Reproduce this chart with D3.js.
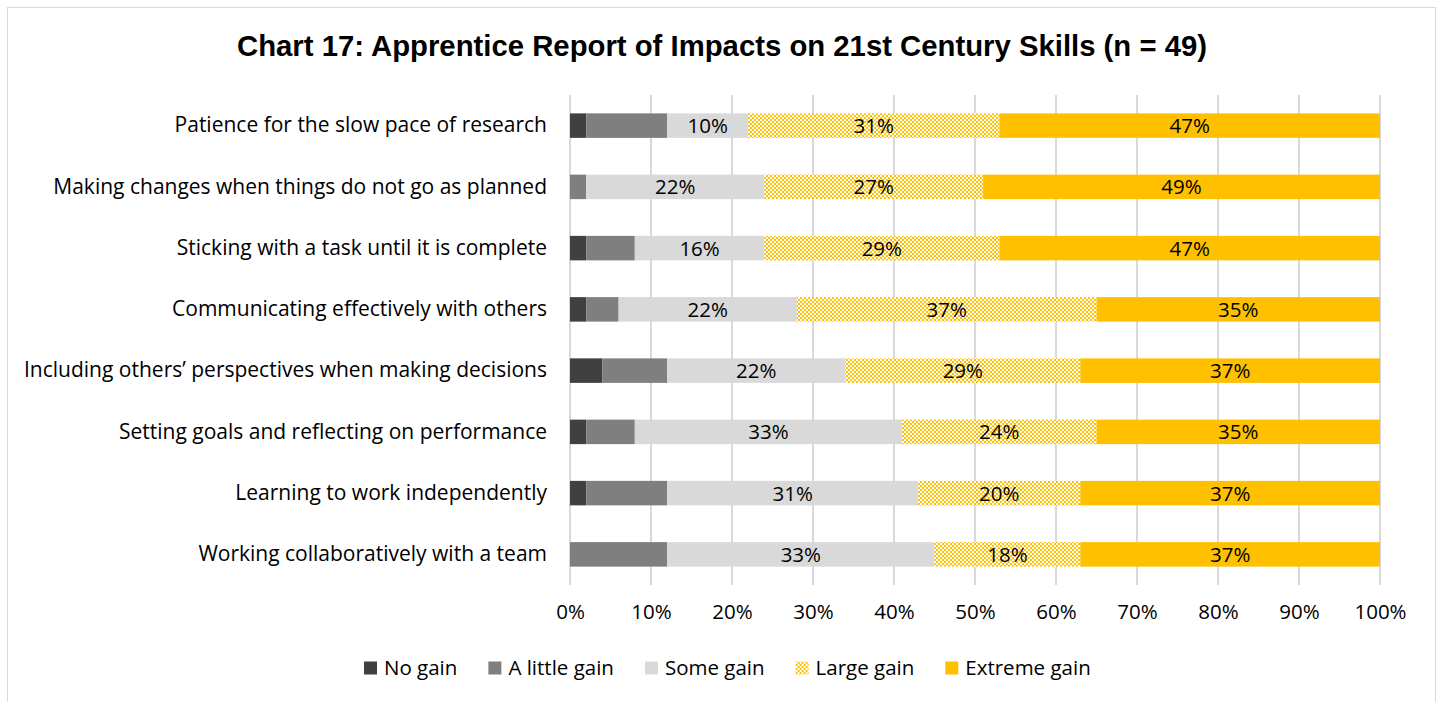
<!DOCTYPE html>
<html>
<head>
<meta charset="utf-8">
<script src="https://cdn.jsdelivr.net/npm/d3@7"></script>
<style>
  body { margin: 0; background: #fff; }
  svg text { font-family: "Open Sans", "Noto Sans", sans-serif; fill: #000; }
  svg text.title { font-family: "Liberation Sans", Arial, sans-serif; font-weight: bold; }
</style>
</head>
<body>
<svg id="chart"></svg>
<script>
const categories = [
  'Patience for the slow pace of research',
  'Making changes when things do not go as planned',
  'Sticking with a task until it is complete',
  'Communicating effectively with others',
  'Including others\u2019 perspectives when making decisions',
  'Setting goals and reflecting on performance',
  'Learning to work independently',
  'Working collaboratively with a team'
];
const seriesNames = ['No gain', 'A little gain', 'Some gain', 'Large gain', 'Extreme gain'];
const noGain      = [2, 0, 2, 2, 4, 2, 2, 0];
const littleGain  = [10, 2, 6, 4, 8, 6, 10, 12];
const someGain    = [10, 22, 16, 22, 22, 33, 31, 33];
const largeGain   = [31, 27, 29, 37, 29, 24, 20, 18];
const extremeGain = [47, 49, 47, 35, 37, 35, 37, 37];
const tickValues = [0, 10, 20, 30, 40, 50, 60, 70, 80, 90, 100];
const labelledSeries = ['Some gain', 'Large gain', 'Extreme gain'];

const seriesValues = [noGain, littleGain, someGain, largeGain, extremeGain];
const data = categories.map((c, i) => {
  const row = { category: c };
  seriesNames.forEach((s, j) => row[s] = seriesValues[j][i]);
  return row;
});

const config = {
  width: 1440, height: 702,
  margin: { top: 95, right: 60, bottom: 117, left: 570 }
};
const innerW = 1380 - config.margin.left;
const innerH = config.height - config.margin.top - config.margin.bottom;

const svg = d3.select('#chart')
  .attr('width', config.width)
  .attr('height', config.height);

// pattern for "Large gain"
const defs = svg.append('defs');
const pat = defs.append('pattern')
  .attr('id', 'checker')
  .attr('patternUnits', 'userSpaceOnUse')
  .attr('width', 4).attr('height', 4);
pat.append('rect').attr('width', 4).attr('height', 4).attr('fill', '#fff');
pat.append('rect').attr('width', 2).attr('height', 2).attr('fill', '#ffc000');
pat.append('rect').attr('x', 2).attr('y', 2).attr('width', 2).attr('height', 2).attr('fill', '#ffc000');

// outer border
svg.append('rect')
  .attr('x', 7.5).attr('y', 7.5)
  .attr('width', 1428).attr('height', 720)
  .attr('fill', 'none')
  .attr('stroke', '#d9d9d9');

svg.append('text')
  .attr('class', 'title')
  .attr('x', 722).attr('y', 56)
  .attr('text-anchor', 'middle')
  .attr('font-size', 29.3)
  .text('Chart 17: Apprentice Report of Impacts on 21st Century Skills (n = 49)');

const chart = svg.append('g')
  .attr('transform', `translate(${config.margin.left},${config.margin.top})`);

const xScale = d3.scaleLinear().domain([0, 100]).range([0, innerW]);
const yScale = d3.scaleBand().domain(categories).range([0, innerH]).paddingInner(0.6).paddingOuter(0.3);

const colorScale = d3.scaleOrdinal()
  .domain(seriesNames)
  .range(['#404040', '#7f7f7f', '#d9d9d9', 'url(#checker)', '#ffc000']);

// gridlines
chart.append('g')
  .selectAll('line')
  .data(tickValues)
  .join('line')
  .attr('x1', d => xScale(d)).attr('x2', d => xScale(d))
  .attr('y1', 0).attr('y2', innerH)
  .attr('stroke', '#d9d9d9')
  .attr('stroke-width', 2);

const stacked = d3.stack().keys(seriesNames)(data);

const layers = chart.selectAll('.layer')
  .data(stacked)
  .join('g')
  .attr('class', 'layer')
  .attr('fill', d => colorScale(d.key));

layers.selectAll('rect')
  .data(d => d)
  .join('rect')
  .attr('x', d => xScale(d[0]))
  .attr('y', d => yScale(d.data.category))
  .attr('width', d => xScale(d[1]) - xScale(d[0]))
  .attr('height', yScale.bandwidth());

// value labels
stacked.filter(s => labelledSeries.includes(s.key)).forEach(s => {
  chart.append('g').selectAll('text')
    .data(s)
    .join('text')
    .attr('x', d => (xScale(d[0]) + xScale(d[1])) / 2)
    .attr('y', d => yScale(d.data.category) + yScale.bandwidth() / 2)
    .attr('dy', '0.36em')
    .attr('text-anchor', 'middle')
    .attr('font-size', 20.5)
    .text(d => (d[1] - d[0]) + '%');
});

// y axis labels
const yAxisG = chart.append('g')
  .call(d3.axisLeft(yScale).tickSize(0).tickPadding(23));
yAxisG.select('.domain').remove();
yAxisG.selectAll('text')
  .attr('font-size', 21)
  .attr('font-family', null);

// x axis
const xAxisG = chart.append('g')
  .attr('transform', `translate(0,${innerH})`)
  .call(d3.axisBottom(xScale).tickValues(tickValues).tickSize(0).tickPadding(19).tickFormat(d => d + '%'));
xAxisG.select('.domain').remove();
xAxisG.selectAll('text')
  .attr('font-size', 20.5)
  .attr('font-family', null);

// legend
const legend = svg.append('g').attr('transform', 'translate(364,668)');
let lx = 0;
seriesNames.forEach(name => {
  const g = legend.append('g').attr('transform', `translate(${lx},0)`);
  g.append('rect')
    .attr('x', 0).attr('y', -6.5)
    .attr('width', 13).attr('height', 13)
    .attr('fill', colorScale(name));
  const t = g.append('text')
    .attr('x', 20)
    .attr('dy', '0.36em')
    .attr('font-size', 20.5)
    .text(name);
  lx += 20 + t.node().getComputedTextLength() + 31;
});
</script>
</body>
</html>
